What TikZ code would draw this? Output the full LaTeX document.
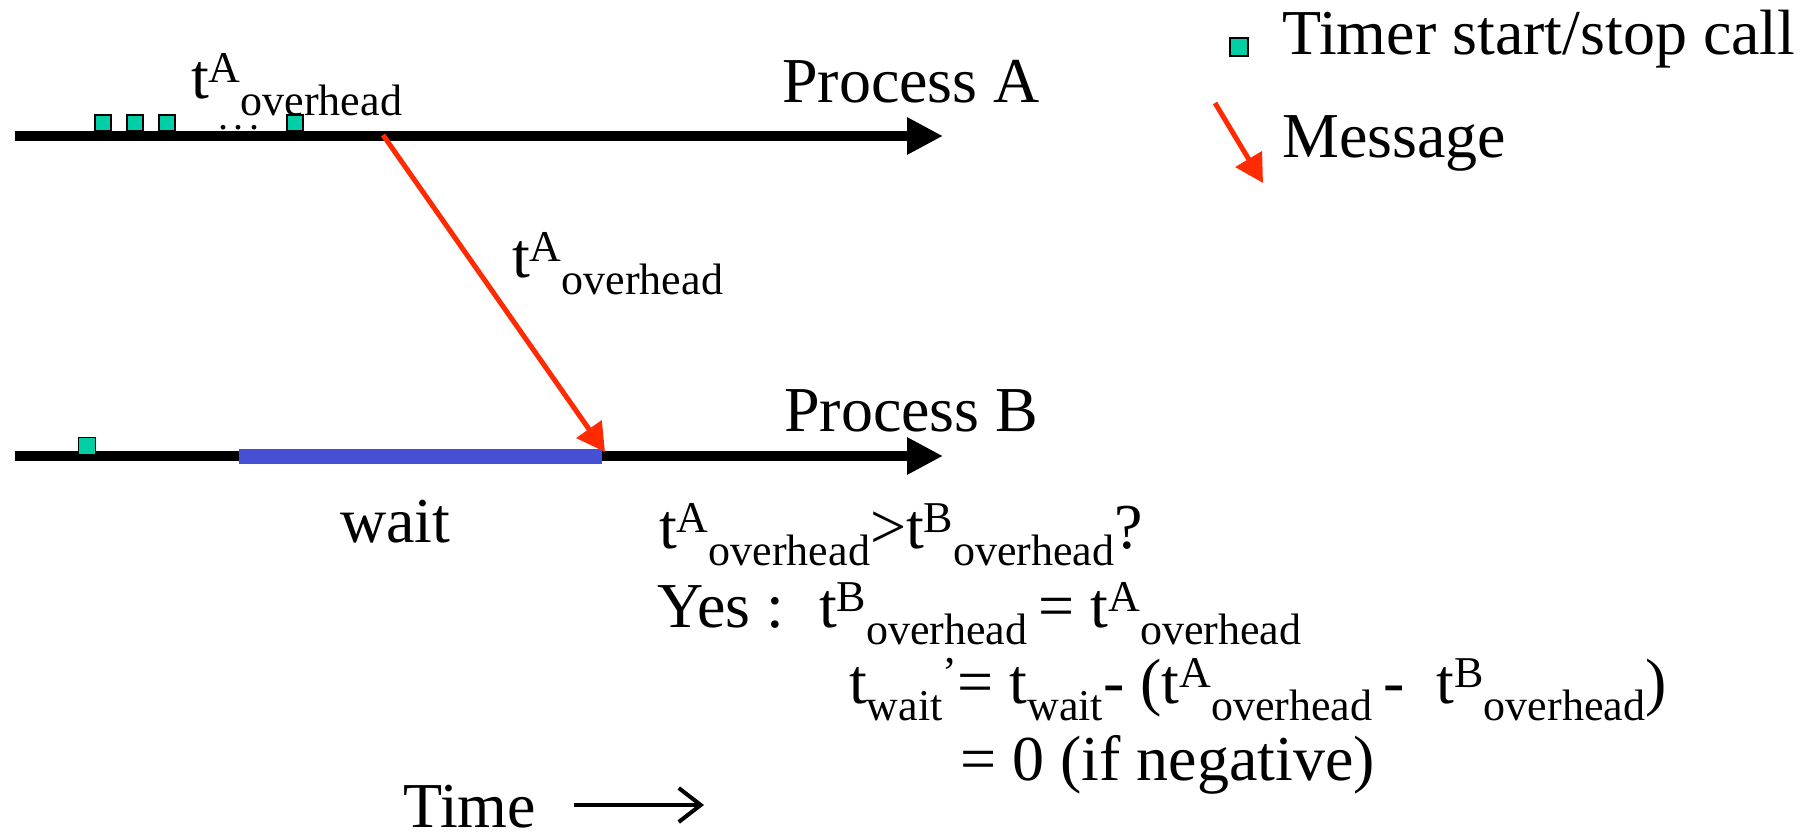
\documentclass[tikz,border=0pt]{standalone}
\usepackage{fontspec}
\setmainfont{Liberation Serif}
\usetikzlibrary{arrows.meta}
\definecolor{timer}{RGB}{0,206,165}
\definecolor{waitblue}{RGB}{70,80,212}
\definecolor{msgred}{RGB}{255,42,0}
\newcommand\mytxt{\fontsize{64}{76}\selectfont}
\newcommand\mysup[1]{\raisebox{16pt}{\fontsize{44}{52}\selectfont #1}}
\newcommand\mysub[1]{\raisebox{-17pt}{\fontsize{44}{52}\selectfont #1}}
\newcommand\tov[1]{t\mysup{#1}\mysub{overhead}}
\begin{document}
\begin{tikzpicture}[x=1pt,y=-1pt,
  txt/.style={anchor=base west, inner sep=0pt, font=\mytxt},
  tsq/.style={draw=black, fill=timer, line width=1.2pt, minimum size=16pt, inner sep=0pt},
  procline/.style={line width=9.3pt, -{Triangle[length=36pt, width=35pt]}},
  msgarrow/.style={draw=msgred, line width=5pt, -{Triangle[length=28pt, width=30pt]}},
  timearrow/.style={line width=4pt, -{Straight Barb[length=22pt, width=34pt]}}]
\useasboundingbox (0,0) rectangle (1810,834);

% process A
\coordinate (A0) at (15,136);
\coordinate (A1) at (943,136);
\draw[procline] (A0) -- (A1);
\node[tsq] (sqA1) at (103,123) {};
\node[tsq] (sqA2) at (135,123) {};
\node[tsq] (sqA3) at (167,123) {};
\node[tsq] (sqA4) at (295,123) {};
\node[anchor=base west, inner sep=0pt, text height=4pt, text depth=0pt, font=\fontsize{40}{40}\selectfont] (dots) at (218,130) {.\hspace{5.5pt}.\hspace{5.5pt}.};
\node[txt] (lblA) at (191,99) {\tov{A}};
\node[txt] (procA) at (782,103) {Process A};

% process B
\coordinate (B0) at (15,456);
\coordinate (B1) at (943,456);
\draw[procline] (B0) -- (B1);
\coordinate (W0) at (239,456);
\coordinate (W1) at (602,456);
\draw[waitblue, line width=15pt] (W0) -- (W1);
\node[tsq, minimum size=17pt] (sqB) at (87,446) {};
\node[txt] (procB) at (784,431) {Process B};
\node[txt] (wait) at (340,542) {wait};

% message
\coordinate (M0) at (383,135);
\coordinate (M1) at (605,452);
\draw[msgarrow] (M0) -- (M1);
\node[txt] (lblmsg) at (512,278) {\tov{A}};

% formulas
\node[txt] (f1) at (659,548) {\tov{A}>\tov{B}?};
\node[txt] (f2) at (657,627) {Yes :\ \ \hspace{3pt}\tov{B}\mysub{\ }= \tov{A}};
\node[txt] (f3) at (849,703) {t\mysub{wait}\mysup{’}= t\mysub{wait}- (\tov{A}\mysub{\ }-\ \ \tov{B})};
\node[txt] (f4) at (960,780) {= 0 (if negative)};

% time
\node[txt, text depth=0pt] (time) at (403,827) {Time};
\coordinate (T0) at (574,805);
\coordinate (T1) at (704,805);
\draw[timearrow] (T0) -- (T1);

% legend
\node[tsq, minimum size=18pt] (legsq) at (1239,47) {};
\node[txt] (leg1) at (1282,55) {Timer start/stop call};
\coordinate (L0) at (1215,103);
\coordinate (L1) at (1263,183);
\draw[msgarrow] (L0) -- (L1);
\node[txt] (leg2) at (1282,158) {Message};
\end{tikzpicture}
\end{document}
